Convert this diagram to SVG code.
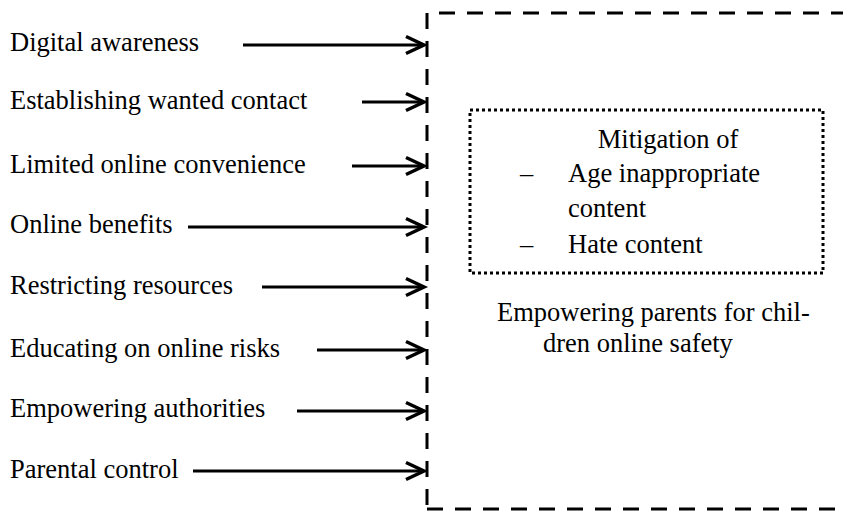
<svg xmlns="http://www.w3.org/2000/svg" width="843" height="512" viewBox="0 0 843 512">
<style>
  .frame { fill: none; stroke: #000; stroke-width: 3; stroke-dasharray: 16 12; }
  .dot { fill: none; stroke: #000; stroke-width: 3; stroke-dasharray: 3 3; }
  .arr { stroke: #000; stroke-width: 3.2; fill: none; marker-end: url(#head); }
</style>
<defs>
  <marker id="head" markerUnits="userSpaceOnUse" viewBox="-20 -11 24 22" markerWidth="24" markerHeight="22" refX="0" refY="0" orient="auto" overflow="visible">
    <path d="M-18,-8.5 L0,0 L-18,8.5" fill="none" stroke="#000" stroke-width="3.5"/>
  </marker>
</defs>
<rect width="843" height="512" fill="#fff"/>
<g id="outcome">
  <path class="frame" d="M427,13 V509"/>
  <path class="frame" d="M439,13 H843"/>
  <path class="frame" d="M427,509 H843"/>
  <text font-family="Liberation Serif" font-size="26.5" x="497" y="321">Empowering parents for chil-</text>
  <text font-family="Liberation Serif" font-size="26.5" x="543" y="352">dren online safety</text>
</g>
<g id="mitigation">
  <rect class="dot" x="470" y="110" width="353" height="163"/>
  <text font-family="Liberation Serif" font-size="26.5" x="668" y="148" text-anchor="middle">Mitigation of</text>
  <text font-family="Liberation Serif" font-size="26.5" x="520" y="182">–</text>
  <text font-family="Liberation Serif" font-size="26.5" x="568" y="182">Age inappropriate</text>
  <text font-family="Liberation Serif" font-size="26.5" x="568" y="217">content</text>
  <text font-family="Liberation Serif" font-size="26.5" x="520" y="253">–</text>
  <text font-family="Liberation Serif" font-size="26.5" x="568" y="253">Hate content</text>
</g>
<g id="n1"><text font-family="Liberation Serif" font-size="26.5" x="10" y="51">Digital awareness</text></g>
<g id="n2"><text font-family="Liberation Serif" font-size="26.5" x="10" y="109">Establishing wanted contact</text></g>
<g id="n3"><text font-family="Liberation Serif" font-size="26.5" x="10" y="173">Limited online convenience</text></g>
<g id="n4"><text font-family="Liberation Serif" font-size="26.5" x="10" y="233">Online benefits</text></g>
<g id="n5"><text font-family="Liberation Serif" font-size="26.5" x="10" y="294">Restricting resources</text></g>
<g id="n6"><text font-family="Liberation Serif" font-size="26.5" x="10" y="357">Educating on online risks</text></g>
<g id="n7"><text font-family="Liberation Serif" font-size="26.5" x="10" y="417">Empowering authorities</text></g>
<g id="n8"><text font-family="Liberation Serif" font-size="26.5" x="10" y="478">Parental control</text></g>
<g id="connectors">
  <line class="arr" x1="243" y1="45" x2="424" y2="45"/>
  <line class="arr" x1="362" y1="102" x2="424" y2="102"/>
  <line class="arr" x1="352" y1="166" x2="424" y2="166"/>
  <line class="arr" x1="188" y1="227" x2="424" y2="227"/>
  <line class="arr" x1="262" y1="287" x2="424" y2="287"/>
  <line class="arr" x1="317" y1="350" x2="424" y2="350"/>
  <line class="arr" x1="297" y1="411" x2="424" y2="411"/>
  <line class="arr" x1="193" y1="471" x2="424" y2="471"/>
</g>
</svg>
